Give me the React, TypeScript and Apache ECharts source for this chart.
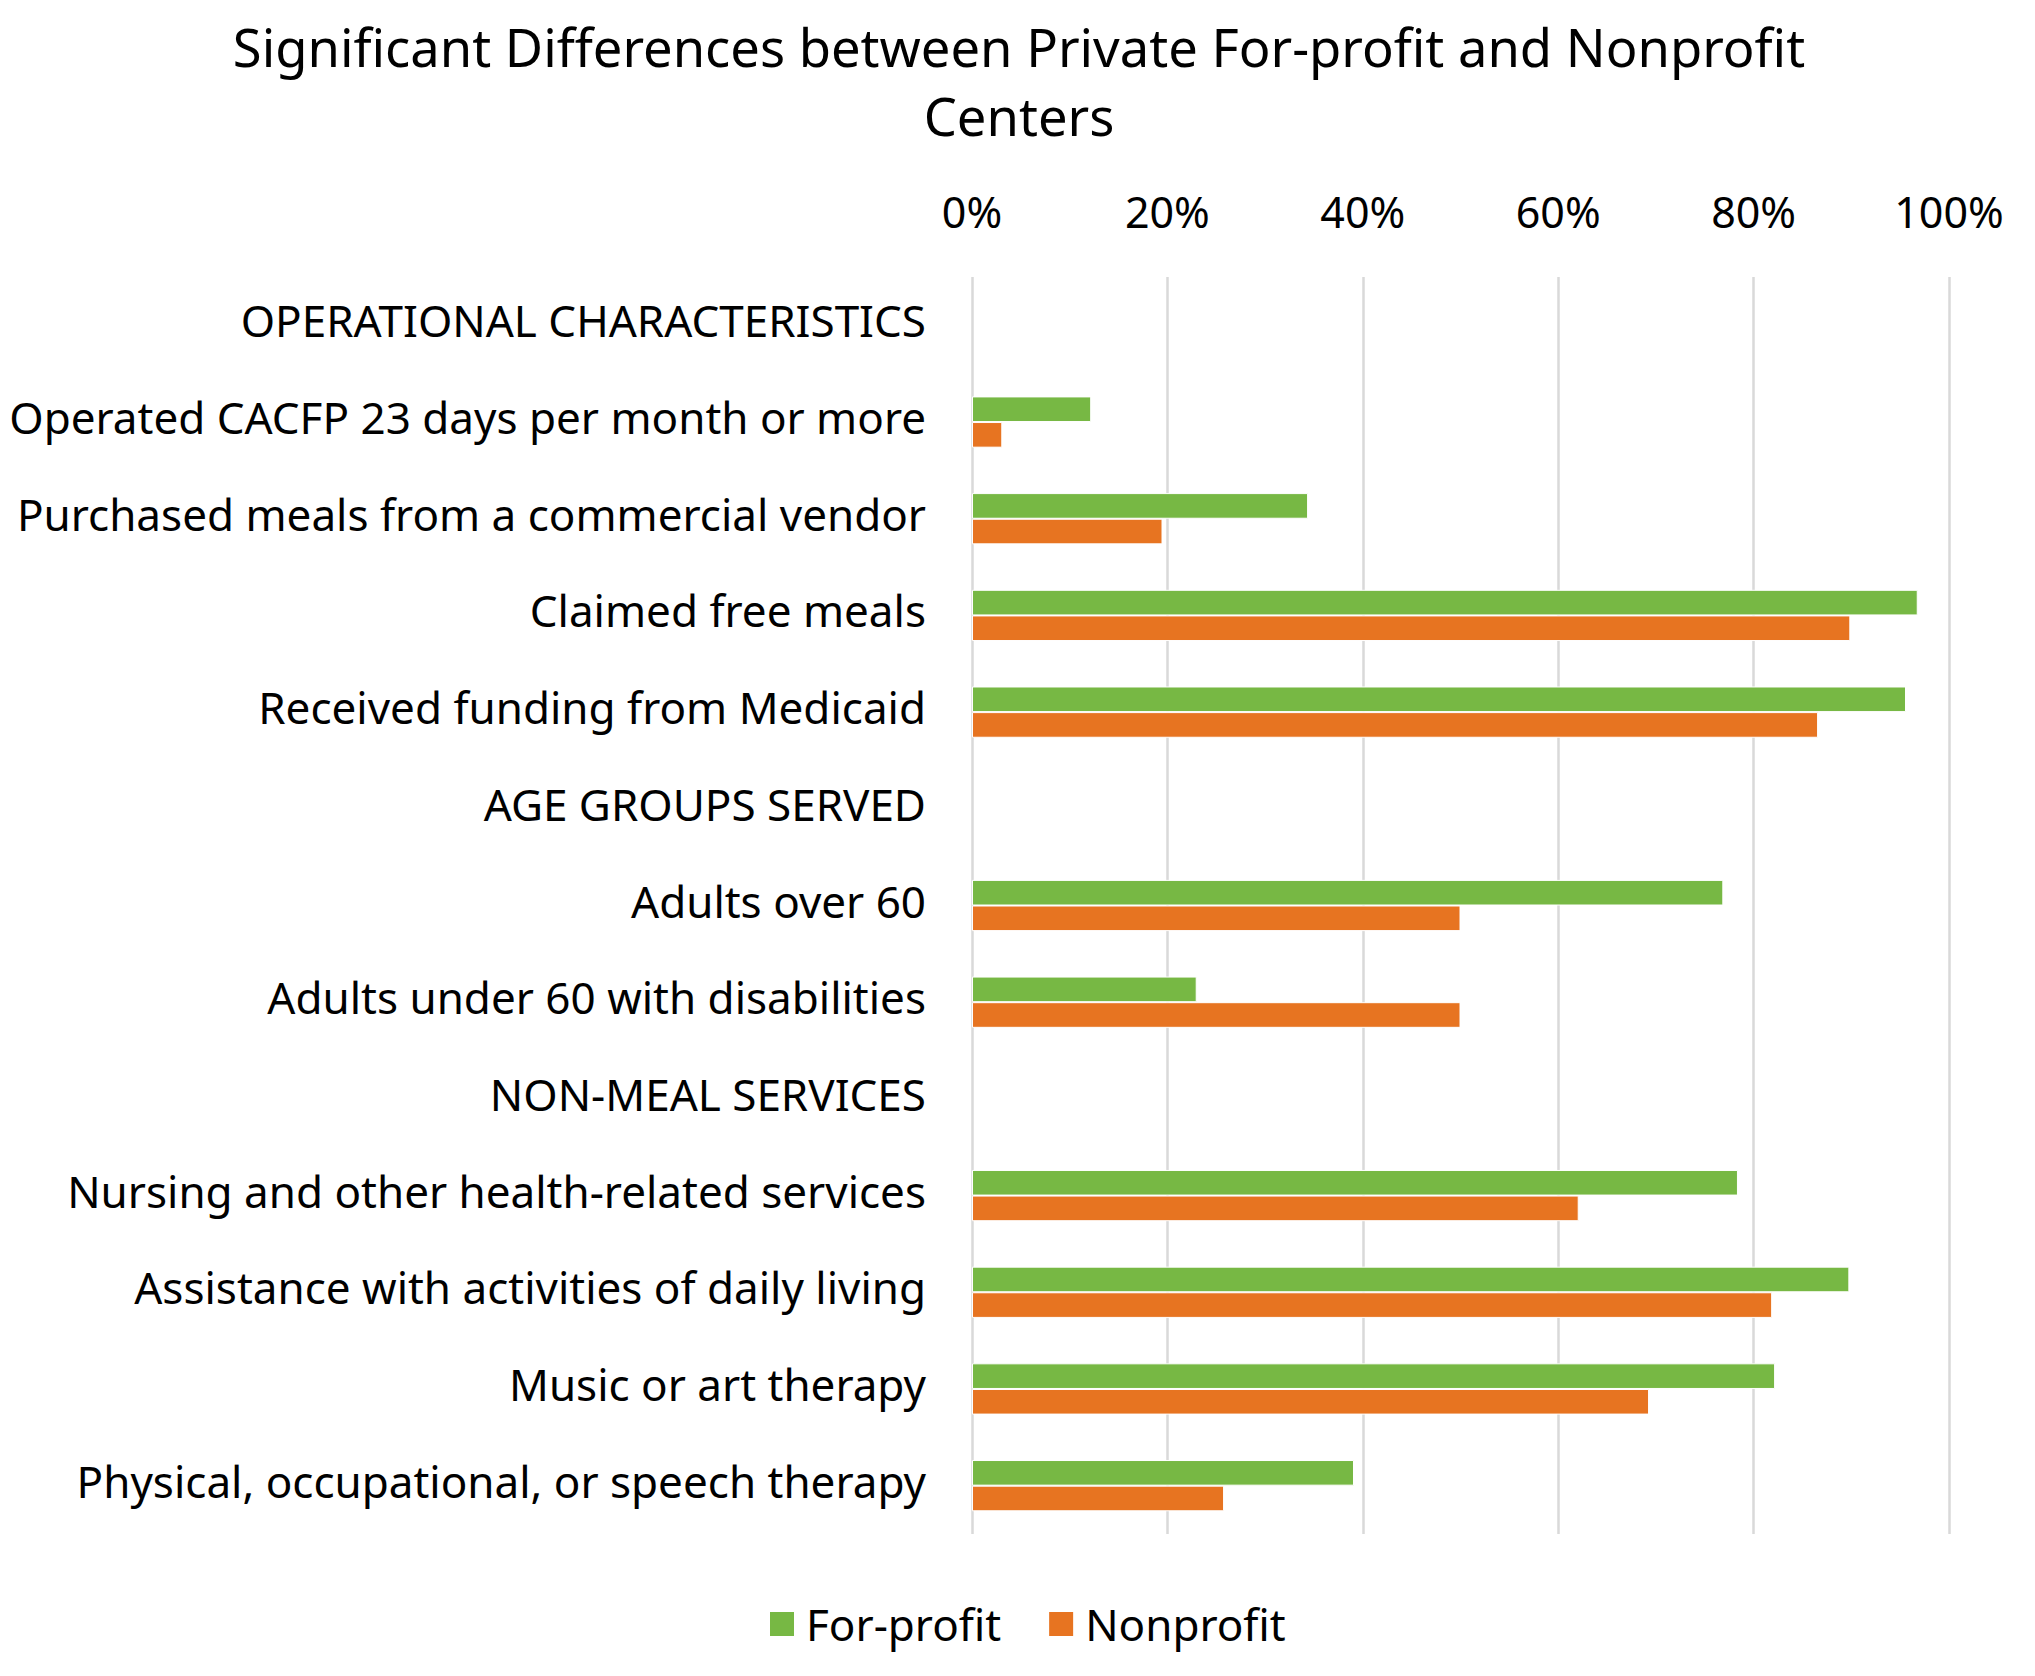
import React, { useEffect, useRef } from "react";
import * as echarts from "echarts";

const titleText = "Significant Differences between Private For-profit and Nonprofit\nCenters";

const categories = [
  "OPERATIONAL CHARACTERISTICS",
  "Operated CACFP 23 days per month or more",
  "Purchased meals from a commercial vendor",
  "Claimed free meals",
  "Received funding from Medicaid",
  "AGE GROUPS SERVED",
  "Adults over 60",
  "Adults under 60 with disabilities",
  "NON-MEAL SERVICES",
  "Nursing and other health-related services",
  "Assistance with activities of daily living",
  "Music or art therapy",
  "Physical, occupational, or speech therapy",
];

const forProfit = [null, 12.2, 34.4, 96.8, 95.6, null, 76.9, 23.0, null, 78.4, 89.8, 82.2, 39.1];
const nonprofit = [null, 3.1, 19.5, 89.9, 86.6, null, 50.0, 50.0, null, 62.1, 81.9, 69.3, 25.8];

const seriesNames = ["For-profit", "Nonprofit"];
const tickValues = [0, 20, 40, 60, 80, 100];

const FONT = "'Noto Sans', 'Liberation Sans', Arial, sans-serif";
const GREEN = "#77B844";
const ORANGE = "#E77421";

export default function App() {
  const ref = useRef<HTMLDivElement>(null);
  useEffect(() => {
    if (!ref.current) return;
    const chart = echarts.init(ref.current, null, { renderer: "svg" });
    chart.setOption({
      animation: false,
      backgroundColor: "#ffffff",
      graphic: [
        {
          type: "text",
          x: 1019,
          y: 81,
          style: {
            text: titleText,
            textAlign: "center",
            textVerticalAlign: "middle",
            fontFamily: FONT,
            fontSize: 52.5,
            lineHeight: 69,
            fill: "#000000",
          },
        },
      ],
      legend: {
        data: seriesNames,
        left: 768,
        top: 1602,
        padding: 0,
        itemWidth: 26,
        itemHeight: 26,
        itemGap: 46,
        icon: "rect",
        textStyle: { fontFamily: FONT, fontSize: 44, color: "#000000", padding: [0, 0, 0, 6] },
      },
      grid: {
        left: 972,
        right: 86,
        top: 277,
        bottom: 142,
        containLabel: false,
        outerBoundsMode: "none",
      },
      xAxis: {
        type: "value",
        position: "top",
        min: tickValues[0],
        max: tickValues[tickValues.length - 1],
        interval: 20,
        axisLine: { show: false },
        axisTick: { show: false },
        axisLabel: {
          formatter: (v: number) => `${v}%`,
          fontFamily: FONT,
          fontSize: 43,
          color: "#000000",
          margin: 44,
        },
        splitLine: { show: true, lineStyle: { color: "#D9D9D9", width: 2.5 } },
      },
      yAxis: {
        type: "category",
        inverse: true,
        data: categories,
        axisLine: { show: false },
        axisTick: { show: false },
        axisLabel: {
          fontFamily: FONT,
          fontSize: 44,
          color: "#000000",
          margin: 46,
          verticalAlign: "bottom",
          lineHeight: 10,
        },
      },
      series: [
        {
          name: seriesNames[0],
          type: "bar",
          data: forProfit,
          barGap: "0%",
          barCategoryGap: "47%",
          itemStyle: { color: GREEN, borderColor: "#ffffff", borderWidth: 1 },
        },
        {
          name: seriesNames[1],
          type: "bar",
          data: nonprofit,
          barGap: "0%",
          barCategoryGap: "47%",
          itemStyle: { color: ORANGE, borderColor: "#ffffff", borderWidth: 1 },
        },
      ],
    });
    return () => chart.dispose();
  }, []);
  return (
    <div
      ref={ref}
      style={{ position: "absolute", left: 0, top: 0, width: 2035, height: 1676 }}
    />
  );
}
